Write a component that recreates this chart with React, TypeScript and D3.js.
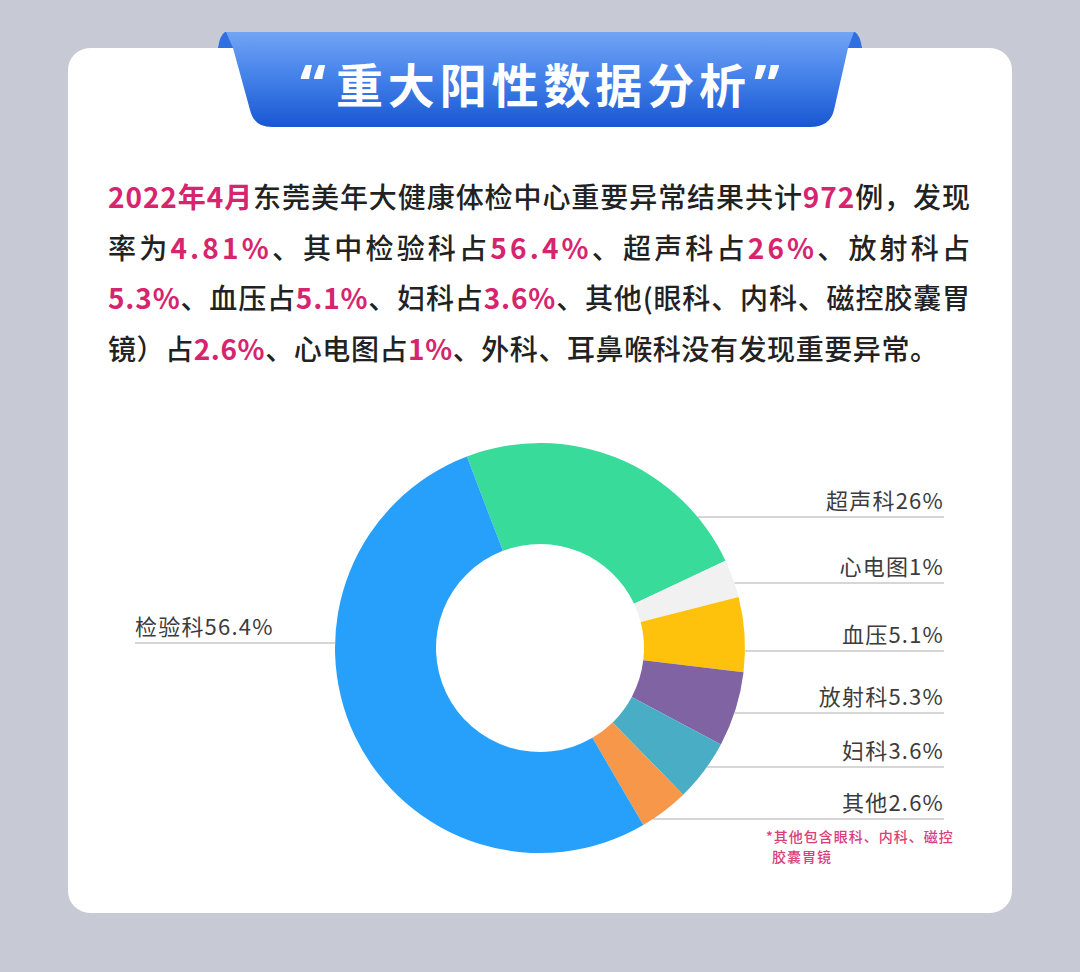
import React from "react";
import * as d3 from "d3";

// ---------- data ----------
const categories = ["超声科", "心电图", "血压", "放射科", "妇科", "其他", "检验科"];
const drawnShares = [23.8, 3.0, 5.9, 5.9, 4.9, 3.9, 52.6];
// percentages printed in the labels
const labelPercents = ["26%", "1%", "5.1%", "5.3%", "3.6%", "2.6%", "56.4%"];
const sliceColors = ["#38db9a", "#f1f1f1", "#ffc20c", "#7f63a3", "#4aadc6", "#f7974a", "#27a0fc"];

const titleText = "重大阳性数据分析";
const titleQuotes = ["“", "”"];
const paragraphLines: [string, boolean][][] = [
  [["2022年4月", true], ["东莞美年大健康体检中心重要异常结果共计", false], ["972", true], ["例，发现", false]],
  [["率为", false], ["4.81%", true], ["、其中检验科占", false], ["56.4%", true], ["、超声科占", false], ["26%", true], ["、放射科占", false]],
  [["5.3%", true], ["、血压占", false], ["5.1%", true], ["、妇科占", false], ["3.6%", true], ["、其他(眼科、内科、磁控胶囊胃", false]],
  [["镜）占", false], ["2.6%", true], ["、心电图占", false], ["1%", true], ["、外科、耳鼻喉科没有发现重要异常。", false]],
];
const footnoteLines = ["*其他包含眼科、内科、磁控", "胶囊胃镜"];

// ---------- layout ----------
const W = 1080, H = 972;
const cx = 540, cy = 648, R = 205, r = 104;
const startDeg = -20.9;
const labelLineY = [517, 583, 651, 713, 767, 819, 643]; // per category
const labelSide = ["right", "right", "right", "right", "right", "right", "left"];
const rightX = 944, leftX = 135;
const FONT = "'Noto Sans CJK SC', 'Noto Sans', sans-serif";
const LATIN = "'Noto Sans', 'DejaVu Sans', sans-serif";

export default function App() {
  const data = categories.map((c, i) => ({ name: c, value: drawnShares[i], color: sliceColors[i], pct: labelPercents[i] }));
  const start = (startDeg * Math.PI) / 180;
  const pie = d3.pie<any>().sort(null).value((d) => d.value).startAngle(start).endAngle(start + 2 * Math.PI);
  const arc = d3.arc<any>().innerRadius(r).outerRadius(R);
  const arcs = pie(data);

  const lineSpans = (i: number) => {
    const y = labelLineY[i];
    const dy = y - cy;
    const half = Math.abs(dy) < R ? Math.sqrt(R * R - dy * dy) : 0;
    return labelSide[i] === "right" ? [cx + half, rightX] : [leftX, cx - half];
  };

  const paraBaselines = [208, 259, 309, 360];
  const paraLengths = [862, 862, 862, 830];

  return (
    <div style={{ position: "fixed", left: 0, top: 0, width: W, height: H }}>
      <svg width={W} height={H} style={{ display: "block" }}>
        <defs>
          <linearGradient id="ribbon" x1="0" y1="0" x2="0" y2="1">
            <stop offset="0%" stopColor="#72a4f5" />
            <stop offset="45%" stopColor="#4683ea" />
            <stop offset="100%" stopColor="#1857d2" />
          </linearGradient>
        </defs>
        <rect x={0} y={0} width={W} height={H} fill="#c7c9d4" />
        <rect x={68} y={48} width={944} height={865} rx={22} ry={22} fill="#ffffff" />

        {/* ribbon */}
        <path d="M218,48 Q220,35 225,32 L238,32 L234,48 Z" fill="#2f6fe0" />
        <path d="M862,48 Q860,35 855,32 L842,32 L847,48 Z" fill="#2f6fe0" />
        <path d="M226,32 L854,32 L848,48 L834,110 Q830,127 810,127 L272,127 Q254,127 250,110 L233,48 Z" fill="url(#ribbon)" />
        <text x={300} y={106} fontFamily={LATIN} fontWeight={700} fontSize={58} fill="#ffffff">{titleQuotes[0]}</text>
        <text x={336} y={103} fontFamily={FONT} fontWeight={700} fontSize={47} fill="#ffffff"
          textLength={410} lengthAdjust="spacing">
          {titleText}
        </text>
        <text x={754} y={106} fontFamily={LATIN} fontWeight={700} fontSize={58} fill="#ffffff">{titleQuotes[1]}</text>

        {/* paragraph */}
        {paragraphLines.map((segs, li) => (
          <text key={li} x={108} y={paraBaselines[li]} fontFamily={FONT} fontSize={28} fontWeight={500}
            textLength={paraLengths[li]} lengthAdjust="spacing">
            {segs.map(([t, hi], si) => (
              <tspan key={si} fill={hi ? "#d6256f" : "#222222"} fontWeight={hi ? 700 : 500}>{t}</tspan>
            ))}
          </text>
        ))}

        {/* leader lines */}
        {data.map((d, i) => {
          const [x1, x2] = lineSpans(i);
          return <line key={"l" + i} x1={x1} x2={x2} y1={labelLineY[i]} y2={labelLineY[i]} stroke="#c9c9c9" strokeWidth={1.5} />;
        })}

        {/* donut */}
        <g transform={`translate(${cx},${cy})`}>
          {arcs.map((a, i) => (
            <path key={i} d={arc(a) || ""} fill={a.data.color} />
          ))}
        </g>

        {/* labels */}
        {data.map((d, i) => (
          <text key={"t" + i}
            x={labelSide[i] === "right" ? rightX : leftX}
            y={labelLineY[i] - 8}
            textAnchor={labelSide[i] === "right" ? "end" : "start"}
            fontFamily={FONT} fontSize={22} fill="#3c3c3c" letterSpacing={1.2}>
            {d.name + d.pct}
          </text>
        ))}

        {/* footnote */}
        <text x={766} y={842} fontFamily={FONT} fontSize={14} fill="#d8407a" letterSpacing={1} fontWeight={500}>{footnoteLines[0]}</text>
        <text x={772} y={862} fontFamily={FONT} fontSize={14} fill="#d8407a" letterSpacing={1} fontWeight={500}>{footnoteLines[1]}</text>
      </svg>
    </div>
  );
}
